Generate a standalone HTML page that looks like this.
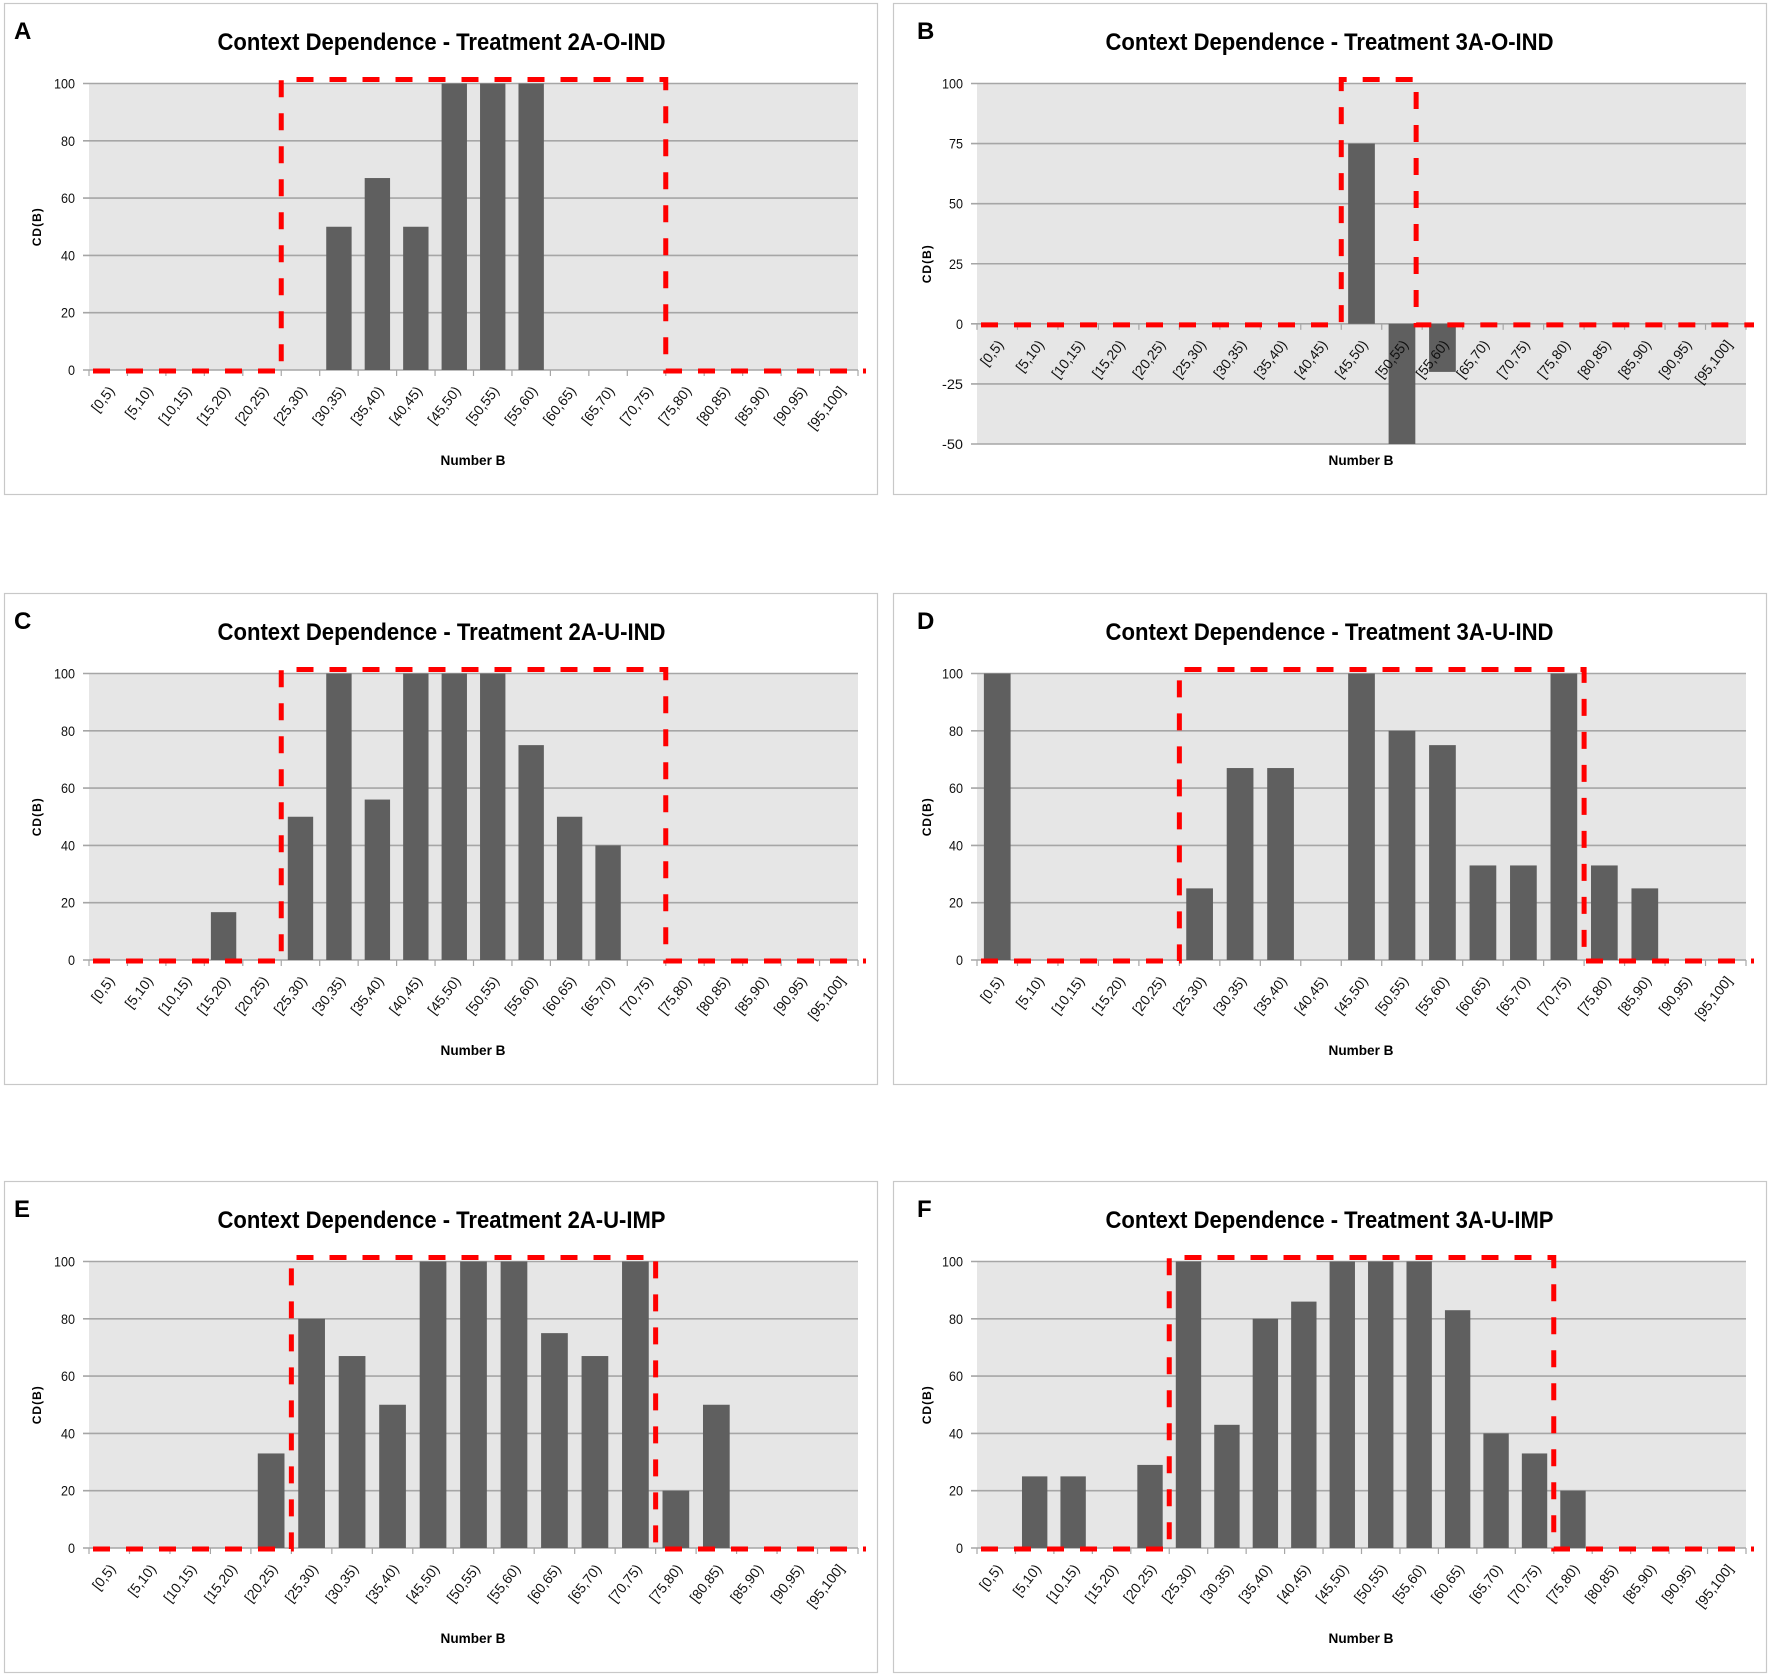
<!DOCTYPE html>
<html><head><meta charset="utf-8">
<style>
html,body{margin:0;padding:0;background:#fff;}
svg{display:block;font-family:"Liberation Sans",Arial,sans-serif;}
</style></head>
<body>
<svg id="fig" width="1772" height="1678" viewBox="0 0 1772 1678" xmlns="http://www.w3.org/2000/svg"></svg>
<script>
// ---- data ----
const catsFull = ["[0,5)","[5,10)","[10,15)","[15,20)","[20,25)","[25,30)","[30,35)","[35,40)","[40,45)","[45,50)","[50,55)","[55,60)","[60,65)","[65,70)","[70,75)","[75,80)","[80,85)","[85,90)","[90,95)","[95,100]"];
const catsA = catsFull;
const valsA = [0,0,0,0,0,0,50,67,50,100,100,100,0,0,0,0,0,0,0,0];
const catsB = ["[0,5)","[5,10)","[10,15)","[15,20)","[20,25)","[25,30)","[30,35)","[35,40)","[40,45)","[45,50)","[50,55)","[55,60)","[65,70)","[70,75)","[75,80)","[80,85)","[85,90)","[90,95)","[95,100]"];
const valsB = [0,0,0,0,0,0,0,0,0,75,-50,-20,0,0,0,0,0,0,0];
const catsC = catsFull;
const valsC = [0,0,0,16.7,0,50,100,56,100,100,100,75,50,40,0,0,0,0,0,0];
const catsD = ["[0,5)","[5,10)","[10,15)","[15,20)","[20,25)","[25,30)","[30,35)","[35,40)","[40,45)","[45,50)","[50,55)","[55,60)","[60,65)","[65,70)","[70,75)","[75,80)","[85,90)","[90,95)","[95,100]"];
const valsD = [100,0,0,0,0,25,67,67,0,100,80,75,33,33,100,33,25,0,0];
const catsE = ["[0,5)","[5,10)","[10,15)","[15,20)","[20,25)","[25,30)","[30,35)","[35,40)","[45,50)","[50,55)","[55,60)","[60,65)","[65,70)","[70,75)","[75,80)","[80,85)","[85,90)","[90,95)","[95,100]"];
const valsE = [0,0,0,0,33,80,67,50,100,100,100,75,67,100,20,50,0,0,0];
const catsF = catsFull;
const valsF = [0,25,25,0,29,100,43,80,86,100,100,100,83,40,33,20,0,0,0,0];
const ticks100 = [0,20,40,60,80,100];
const ticksB = [-50,-25,0,25,50,75,100];
// region boxes (category-index boundaries)
const boxA = [5,15], boxB = [9,10.85], boxC = [5,15], boxD = [5,15], boxE = [5,14], boxF = [5,15];

const titles = ["Context Dependence - Treatment 2A-O-IND","Context Dependence - Treatment 3A-O-IND","Context Dependence - Treatment 2A-U-IND","Context Dependence - Treatment 3A-U-IND","Context Dependence - Treatment 2A-U-IMP","Context Dependence - Treatment 3A-U-IMP"];

const NS="http://www.w3.org/2000/svg";
const svg=document.getElementById('fig');
function mk(tag,attrs,parent){const e=document.createElementNS(NS,tag);for(const k in attrs)e.setAttribute(k,attrs[k]);(parent||svg).appendChild(e);return e;}

const panels=[
 {id:'a',L:'A',ox:0,oy:0,left:true,cats:catsA,vals:valsA,box:boxA,ticks:ticks100,pL:89,pR:858,pT:83.5,pB:370},
 {id:'b',L:'B',ox:890,oy:0,left:false,cats:catsB,vals:valsB,box:boxB,ticks:ticksB,pL:87,pR:856,pT:83.5,pB:444},
 {id:'c',L:'C',ox:0,oy:590,left:true,cats:catsC,vals:valsC,box:boxC,ticks:ticks100,pL:89,pR:858,pT:83.5,pB:370},
 {id:'d',L:'D',ox:890,oy:590,left:false,cats:catsD,vals:valsD,box:boxD,ticks:ticks100,pL:87,pR:856,pT:83.5,pB:370},
 {id:'e',L:'E',ox:0,oy:1178,left:true,cats:catsE,vals:valsE,box:boxE,ticks:ticks100,pL:89,pR:858,pT:83.5,pB:370},
 {id:'f',L:'F',ox:890,oy:1178,left:false,cats:catsF,vals:valsF,box:boxF,ticks:ticks100,pL:87,pR:856,pT:83.5,pB:370}
];

panels.forEach((p,pi)=>{
  const g=mk('g',{transform:`translate(${p.ox},${p.oy})`});
  
  
  const bx = p.left?4.5:3.5;
  const fr=mk('rect',{x:bx,y:3.5,width:873,height:491,fill:'#fff',stroke:'#c8c8c8','stroke-width':1.2},g);
  
  
  const letter=mk('text',{x:p.left?14:27,y:39,'font-size':24,'font-weight':'bold',fill:'#000'},g);
  letter.textContent=p.L;
  
  
  const tcx=(p.pL+p.pR)/2-32;
  const t=mk('text',{x:tcx-224,y:50,'font-size':24,'font-weight':'bold',textLength:448,lengthAdjust:'spacingAndGlyphs',fill:'#000'},g);
  t.textContent=titles[pi];
  
  

  const ymin=p.ticks[0], ymax=p.ticks[p.ticks.length-1];
  const yS=v=>p.pB-(v-ymin)/(ymax-ymin)*(p.pB-p.pT);
  const n=p.cats.length, bwid=(p.pR-p.pL)/n;
  const xS=i=>p.pL+i*bwid;

  const bg=mk('rect',{x:p.pL,y:p.pT,width:p.pR-p.pL,height:p.pB-p.pT,fill:'#e6e6e6'},g);
  
  
  p.ticks.forEach(v=>{
    const gl=mk('line',{x1:p.pL-6,x2:p.pR,y1:yS(v),y2:yS(v),stroke:'#a6a6a6','stroke-width':1.6},g);
    
    
    const tl=mk('text',{x:p.pL-14,y:yS(v)+5,'font-size':14,'text-anchor':'end',fill:'#111',textLength:String(v).length*7,lengthAdjust:'spacingAndGlyphs'},g);
    tl.textContent=v;
    
    
  });
  const y0=yS(0);
  for(let i=0;i<=n;i++){
    const tk=mk('line',{x1:xS(i),x2:xS(i),y1:y0,y2:y0+6,stroke:'#a6a6a6','stroke-width':1.2},g);
    
    
  }
  p.vals.forEach((v,i)=>{
    if(v===0)return;
    const cx=xS(i+0.5), w=bwid*0.66;
    const b=mk('rect',{x:cx-w/2,y:Math.min(yS(v),y0),width:w,height:Math.abs(yS(v)-y0),fill:'#5f5f5f'},g);
    
    
  });
  p.cats.forEach((c,i)=>{
    const cx=xS(i+0.5)+7, ty=y0+21;
    const tl=mk('text',{x:cx,y:ty,'font-size':14,'text-anchor':'end',fill:'#111',transform:`rotate(-52 ${cx} ${ty})`},g);
    tl.textContent=c;
    
    
  });
  const xL=xS(p.box[0]), xR=xS(p.box[1]), yT=yS(ymax)-4, yB=y0+1;
  const d=`M${p.pL+4},${yB} H${xL} V${yT} H${xR} V${yB} H${p.pR+8}`;
  const rp=mk('path',{d:d,fill:'none',stroke:'#ff0000','stroke-width':5,'stroke-dasharray':'17 16'},g);
  
  
  const yl=mk('text',{x:0,y:0,'font-size':12,'font-weight':'bold','text-anchor':'middle','letter-spacing':1,fill:'#000',transform:`translate(41 ${(p.pT+p.pB)/2}) rotate(-90)`},g);
  yl.textContent='CD(B)';
  
  
  const xl=mk('text',{x:(p.pL+p.pR)/2-33,y:465,'font-size':14,'font-weight':'bold',textLength:65,lengthAdjust:'spacingAndGlyphs',fill:'#000'},g);
  xl.textContent='Number B';
  
  
});
</script>
</body></html>
